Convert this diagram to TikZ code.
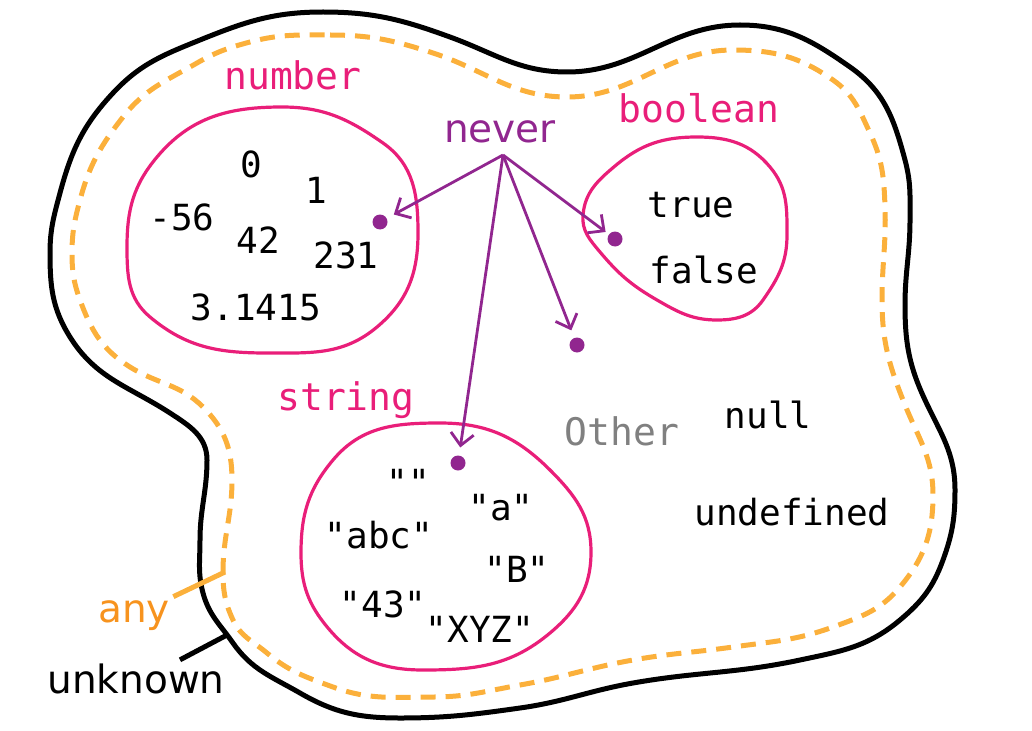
\documentclass[tikz,border=0pt]{standalone}
\usepackage{fontspec}
\setmainfont{DejaVu Sans}
\setmonofont{DejaVu Sans Mono}
\usetikzlibrary{arrows.meta}
\definecolor{tspink}{RGB}{233,30,121}
\definecolor{tspurple}{RGB}{145,38,143}
\definecolor{tsorange}{RGB}{251,176,59}
\definecolor{tsanyorange}{RGB}{247,147,30}
\tikzset{
  typelabel/.style={anchor=base,text=tspink,font=\ttfamily\fontsize{38}{40}\selectfont},
  value/.style={anchor=base,font=\ttfamily\fontsize{36}{38}\selectfont},
  settext/.style={anchor=base,font=\fontsize{39}{41}\selectfont},
  typeset/.style={draw=tspink,line width=3.2pt},
  nodot/.style={circle,fill=tspurple,minimum size=15pt,inner sep=0pt},
  neverarrow/.style={draw=tspurple,line width=2.8pt,-{Straight Barb[length=12pt,width=23pt]},shorten >=8pt},
}

\begin{document}
\begin{tikzpicture}[x=1pt,y=-1pt]
\useasboundingbox (0,0) rectangle (1032,730);
% unknown
\draw [line width=5pt] (323,12) to[out=0,in=-200] (450,37) to[out=-20,in=-180] (567,72)
  to[out=0,in=-180] (740,25) to[out=0,in=-215] (850,67) to[out=-35,in=-255] (905,160)
  to[out=-75,in=-270] (910,220) to[out=-90,in=-270] (905,305) to[out=-90,in=-245] (925,400)
  to[out=-65,in=-270] (955,490) to[out=-90,in=-290] (943,560) to[out=-110,in=-320] (900,620)
  to[out=-140,in=-348] (800,660) to[out=-168,in=-350] (633,683) to[out=-170,in=-352] (520,708)
  to[out=-172,in=0] (400,718) to[out=-180,in=-30] (300,693) to[out=-210,in=-55] (233,643)
  to[out=-235,in=-75] (203,593) to[out=-255,in=-90] (200,540) to[out=-270,in=-90] (207,460)
  to[out=-270,in=-33] (170,413) to[out=-213,in=-58] (70,337) to[out=-238,in=-90] (50,253)
  to[out=-270,in=-105] (60,193) to[out=-285,in=-133] (113,93) to[out=-313,in=-158] (200,40)
  to[out=-338,in=-180] cycle;
% any
\draw [tsorange,line width=5pt,dash pattern=on 15pt off 10pt] (330,35) to[out=0,in=-198] (433,53)
  to[out=-18,in=-180] (567,97) to[out=0,in=-180] (733,50) to[out=0,in=-215] (833,80)
  to[out=-35,in=-245] (870,133) to[out=-65,in=-268] (885,207) to[out=-88,in=-270] (882,300)
  to[out=-90,in=-248] (905,405) to[out=-68,in=-270] (933,495) to[out=-90,in=-310] (900,587)
  to[out=-130,in=-340] (833,627) to[out=-160,in=-352] (733,647) to[out=-172,in=-350] (633,660)
  to[out=-170,in=-350] (520,685) to[out=-170,in=0] (433,697) to[out=-180,in=-20] (333,687)
  to[out=-200,in=-40] (267,653) to[out=-220,in=-65] (233,620) to[out=-245,in=-90] (223,572)
  to[out=-270,in=-90] (232,480) to[out=-270,in=-45] (203,407) to[out=-225,in=-32] (130,367)
  to[out=-212,in=-70] (80,300) to[out=-250,in=-90] (72,253) to[out=-270,in=-105] (80,200)
  to[out=-285,in=-128] (123,117) to[out=-308,in=-150] (197,63) to[out=-330,in=-165] (250,42)
  to[out=-345,in=-180] cycle;
% number
\draw [typeset] (282,107) to[out=0,in=-215] (383,143) to[out=-35,in=-270] (418,233)
  to[out=-90,in=-320] (377,327) to[out=-140,in=0] (267,353) to[out=-180,in=-40] (150,317)
  to[out=-220,in=-90] (127,247) to[out=-270,in=-130] (157,157) to[out=-310,in=-180] cycle;
% boolean
\draw [typeset] (697,137) to[out=0,in=-230] (770,167) to[out=-50,in=-270] (787,235)
  to[out=-90,in=-305] (763,300) to[out=-125,in=0] (717,320) to[out=-180,in=-30] (657,300)
  to[out=-210,in=-50] (600,252) to[out=-230,in=-95] (583,215) to[out=-275,in=-140] (615,166)
  to[out=-320,in=-180] cycle;
% string
\draw [typeset] (440,423) to[out=0,in=-225] (550,470) to[out=-45,in=-270] (591,552)
  to[out=-90,in=-320] (550,633) to[out=-140,in=0] (423,670) to[out=-180,in=-50] (328,628)
  to[out=-230,in=-90] (301,553) to[out=-270,in=-130] (333,460) to[out=-310,in=-180] cycle;
% labels
\node [typelabel] (number) at (293,90) {number};
\node [typelabel] (boolean) at (699,123) {boolean};
\node [typelabel] (string) at (346,410) {string};
\node [typelabel,text=gray] (other) at (622,445) {Other};
\node [settext,text=tspurple] (never) at (500,143) {never};
\node [settext,text=tsanyorange] (any) at (134,622) {any};
\node [settext] (unknown) at (136,693) {unknown};
% values
\node [value] (v0) at (251,177) {0};
\node [value] (v1) at (316,203) {1};
\node [value] (vm56) at (182,230) {-56};
\node [value] (v42) at (258,253) {42};
\node [value] (v231) at (346,268) {231};
\node [value] (vpi) at (256,320) {3.1415};
\node [value] (vtrue) at (691,217) {true};
\node [value] (vfalse) at (704,283) {false};
\node [value] (vempty) at (408,495) {""};
\node [value] (va) at (501,520) {"a"};
\node [value] (vabc) at (379,548) {"abc"};
\node [value] (vB) at (517,582) {"B"};
\node [value] (v43) at (383,617) {"43"};
\node [value] (vXYZ) at (480,642) {"XYZ"};
\node [value] (vnull) at (768,428) {null};
\node [value] (vundef) at (792,525) {undefined};
% never
\node [nodot] (numdot) at (380,222) {};
\node [nodot] (booldot) at (615,239) {};
\node [nodot] (otherdot) at (577,345) {};
\node [nodot] (strdot) at (458,463) {};
\coordinate (fork) at (503,155);
\draw [neverarrow] (fork) -- (numdot);
\draw [neverarrow,shorten >=4pt] (fork) -- (booldot);
\draw [neverarrow] (fork) -- (otherdot);
\draw [neverarrow] (fork) -- (strdot);
% leaders
\coordinate (anypt) at (225,572);
\coordinate (unknownpt) at (227,635);
\draw [tsorange,line width=5pt] (any.north east) -- (anypt);
\draw [line width=5pt] ([xshift=44pt]unknown.north) -- (unknownpt);
\end{tikzpicture}
\end{document}
